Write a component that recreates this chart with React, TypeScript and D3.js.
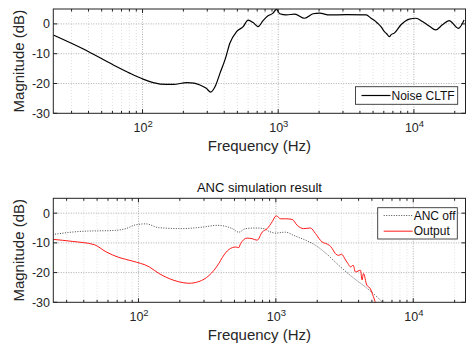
import React from "react";
import * as d3 from "d3";

// Noise CLTF (top panel)
const cltfFreq = [22, 37, 61, 81, 102, 120, 135, 169, 212, 240, 265, 295, 318, 342, 372, 409, 440, 493, 552, 600, 653, 711, 773, 841, 916, 970, 1026, 1148, 1322, 1567, 1805, 2018, 2389, 3162, 4450, 4830, 5100, 5400, 5700, 6060, 6300, 6590, 6800, 7170, 8030, 9250, 10350, 11570, 12950, 14500, 16220, 18190, 21250, 23440];
const cltfDb = [-3.7, -8.5, -13.8, -16.6, -18.6, -19.7, -20.2, -20.3, -19.7, -19.9, -20.5, -21.6, -22.9, -21.1, -16.6, -11.5, -6.5, -2.6, -0.9, 1.3, 0.45, -0.9, 1.1, 2.7, 3.6, 4.9, 3.4, 3.0, 3.3, 1.9, 3.4, 3.6, 3.0, 3.1, 3.0, 1.9, 1.2, 0.2, -0.8, -2.6, -3.3, -4.3, -3.6, -3.1, -0.3, 1.6, 1.9, 0.8, -0.7, -2.0, -0.3, 1.1, -1.5, 1.3];

// ANC simulation (bottom panel)
const offFreq = [23.7, 39, 68, 81, 96, 113, 141, 209, 292, 375, 482, 537, 603, 700, 820, 889, 997, 1176, 1350, 1645, 1938, 2300, 2860, 3580, 4470, 5280, 5920, 6300];
const offDb = [-7.2, -6.1, -5.8, -5.2, -3.9, -3.6, -4.9, -5.2, -4.7, -4.1, -5.2, -6.4, -5.2, -5.0, -5.2, -6.1, -6.7, -6.4, -7.5, -9.1, -10.8, -13.4, -17.5, -21.4, -24.8, -27.6, -29.8, -31];
const outFreq = [23.7, 33, 47.6, 58, 72, 90, 120, 141, 167, 197, 233, 276, 326, 385, 408, 456, 510, 537, 553, 618, 673, 731, 795, 865, 940, 1005, 1085, 1176, 1313, 1430, 1595, 1785, 1938, 2170, 2300, 2450, 2570, 2700, 2870, 3000, 3220, 3350, 3500, 3650, 3800, 4130, 4240, 4340, 4590, 4850, 5130, 5280, 5500];
const outDb = [-8.8, -9.5, -10.6, -13.0, -14.9, -16.1, -18.1, -20.3, -22.0, -23.1, -23.6, -23.0, -21.0, -16.9, -14.9, -12.2, -11.4, -11.6, -10.3, -8.4, -8.6, -9.1, -6.4, -5.2, -2.9, -0.9, -1.9, -1.9, -2.1, -4.1, -5.2, -5.0, -6.8, -9.7, -10.2, -10.8, -11.9, -13.5, -14.2, -13.8, -15.8, -17.0, -18.1, -17.5, -19.8, -19.2, -22.5, -20.3, -24.2, -25.3, -28.1, -29.8, -32];

const yTicks = [-30, -20, -10, 0];
const decades = [2, 3, 4];
const font = "'Liberation Sans', Arial, sans-serif";

type Series = { freq: number[]; db: number[]; color: string; width: number; dash?: string; name: string };

function Panel(props: {
  id: string;
  top: number;
  bottom: number;
  xDomain: [number, number];
  series: Series[];
  legend: { x0: number; y0: number; x1: number; y1: number };
  title?: string;
}) {
  const { id, top, bottom, xDomain, series, legend, title } = props;
  const left = 53.3, right = 465.5;
  const x = d3.scaleLog().domain(xDomain).range([left, right]);
  const y = d3.scaleLinear().domain([-30, 5]).range([bottom, top]);
  const minor: number[] = [];
  for (let e = 1; e <= 4; e++) for (let m = 2; m <= 9; m++) {
    const v = m * Math.pow(10, e);
    if (v > xDomain[0] && v < xDomain[1]) minor.push(v);
  }
  const line = d3.line<[number, number]>().x(d => x(d[0])).y(d => y(d[1])).curve(d3.curveMonotoneX);
  const rowH = (legend.y1 - legend.y0) / series.length;
  return (
    <g>
      <defs>
        <clipPath id={id}><rect x={left} y={top} width={right - left} height={bottom - top} /></clipPath>
      </defs>
      <rect x={left} y={top} width={right - left} height={bottom - top} fill="#fff" />
      {minor.map(v => (
        <line key={"mg" + v} x1={x(v)} x2={x(v)} y1={top} y2={bottom} stroke="#d4d4d4" strokeWidth={0.7} strokeDasharray="1,2" />
      ))}
      {decades.map(e => (
        <line key={"dg" + e} x1={x(Math.pow(10, e))} x2={x(Math.pow(10, e))} y1={top} y2={bottom} stroke="#999" strokeWidth={0.8} strokeDasharray="1,1.5" />
      ))}
      {yTicks.slice(1).map(t => (
        <line key={"yg" + t} x1={left} x2={right} y1={y(t)} y2={y(t)} stroke="#999" strokeWidth={0.8} strokeDasharray="1,1.5" />
      ))}
      <g clipPath={`url(#${id})`}>
        {series.map(s => (
          <path key={s.name} d={line(s.freq.map((f, i) => [f, s.db[i]] as [number, number])) || ""} fill="none"
            stroke={s.color} strokeWidth={s.width} strokeDasharray={s.dash} strokeLinejoin="round" />
        ))}
      </g>
      <rect x={left} y={top} width={right - left} height={bottom - top} fill="none" stroke="#222" strokeWidth={1} />
      {minor.map(v => (
        <g key={"mt" + v}>
          <line x1={x(v)} x2={x(v)} y1={bottom} y2={bottom - 2.5} stroke="#222" />
          <line x1={x(v)} x2={x(v)} y1={top} y2={top + 2.5} stroke="#222" />
        </g>
      ))}
      {decades.map(e => (
        <g key={"dt" + e}>
          <line x1={x(Math.pow(10, e))} x2={x(Math.pow(10, e))} y1={bottom} y2={bottom - 4} stroke="#222" />
          <line x1={x(Math.pow(10, e))} x2={x(Math.pow(10, e))} y1={top} y2={top + 4} stroke="#222" />
          <text x={x(Math.pow(10, e)) - 9} y={bottom + 19} fontFamily={font} fontSize={12.5} fill="#262626">
            10<tspan dy={-5} fontSize={9.5}>{e}</tspan>
          </text>
        </g>
      ))}
      {yTicks.map(t => (
        <g key={"yt" + t}>
          <line x1={left} x2={left + 4} y1={y(t)} y2={y(t)} stroke="#222" />
          <line x1={right} x2={right - 4} y1={y(t)} y2={y(t)} stroke="#222" />
          <text x={50} y={y(t)} dy="0.36em" textAnchor="end" fontFamily={font} fontSize={12.5} fill="#262626">{t}</text>
        </g>
      ))}
      <text transform={`translate(23.5,${(top + bottom) / 2}) rotate(-90)`} textAnchor="middle" fontFamily={font} fontSize={15} fill="#262626">Magnitude (dB)</text>
      <text x={(left + right) / 2} y={bottom + 37.2} textAnchor="middle" fontFamily={font} fontSize={15} fill="#262626">Frequency (Hz)</text>
      {title && (
        <text x={(left + right) / 2} y={top - 6.5} textAnchor="middle" fontFamily={font} fontSize={13} fill="#111">{title}</text>
      )}
      <rect x={legend.x0} y={legend.y0} width={legend.x1 - legend.x0} height={legend.y1 - legend.y0} fill="#fff" stroke="#333" strokeWidth={0.9} />
      {series.map((s, i) => {
        const cy = legend.y0 + rowH * (i + 0.5);
        return (
          <g key={"lg" + s.name}>
            <line x1={legend.x0 + 6} x2={legend.x0 + 35} y1={cy} y2={cy} stroke={s.color} strokeWidth={s.width} strokeDasharray={s.dash} />
            <text x={legend.x0 + 36} y={cy} dy="0.36em" fontFamily={font} fontSize={12} fill="#111">{s.name}</text>
          </g>
        );
      })}
    </g>
  );
}

export default function App() {
  return (
    <svg width={467} height={348} style={{ position: "absolute", left: 0, top: 0, background: "#fff" }}>
      <rect width={467} height={348} fill="#fff" />
      <Panel id="clipTop" top={9} bottom={113.3} xDomain={[22, 24000]}
        series={[{ freq: cltfFreq, db: cltfDb, color: "#000", width: 1.2, name: "Noise CLTF" }]}
        legend={{ x0: 355.5, y0: 86.7, x1: 457.7, y1: 104.3 }} />
      <Panel id="clipBottom" top={198.3} bottom={302.3} xDomain={[24, 24000]} title="ANC simulation result"
        series={[
          { freq: offFreq, db: offDb, color: "#333", width: 0.9, dash: "1,1.5", name: "ANC off" },
          { freq: outFreq, db: outDb, color: "#ff1a1a", width: 1, name: "Output" },
        ]}
        legend={{ x0: 377.7, y0: 207.7, x1: 457.3, y1: 239 }} />
    </svg>
  );
}
